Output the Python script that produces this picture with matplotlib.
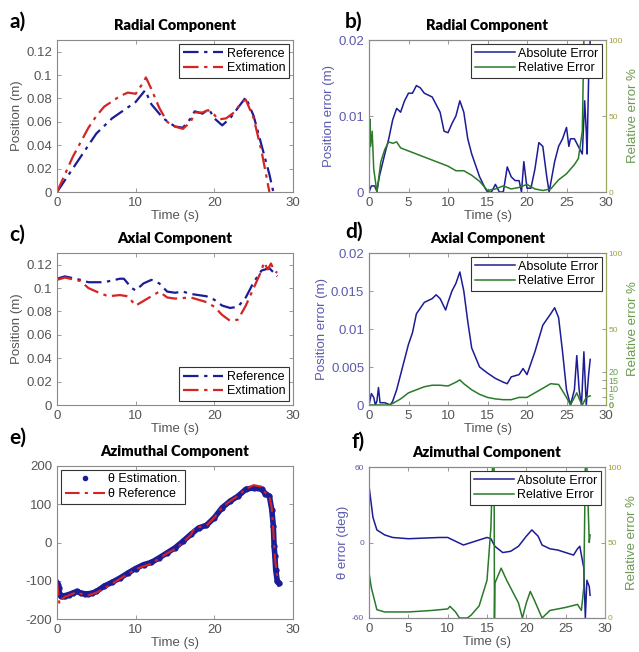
import numpy as np
import matplotlib
matplotlib.use("Agg")
import matplotlib.pyplot as plt
from matplotlib.ticker import FuncFormatter
from matplotlib.lines import Line2D

plt.rcParams['font.family'] = ['Liberation Sans', 'DejaVu Sans']

# ---- a) radial component
t_rad_ref = [0, 2, 5, 7, 10, 11.2, 12, 13.5, 15, 16, 17, 17.5, 18.5, 19.3, 20, 21, 22, 23, 24, 25, 26, 27, 27.5, 27.8]
rad_ref = [0, 0.02, 0.05, 0.063, 0.077, 0.087, 0.075, 0.063, 0.056, 0.055, 0.063, 0.069, 0.067, 0.071, 0.063,
           0.057, 0.063, 0.072, 0.081, 0.065, 0.04, 0.015, 0.0, 0.003]
t_rad_est = [0, 2, 4, 5, 6, 8, 9, 10, 11, 11.3, 12, 13, 14, 15, 16, 17, 17.5, 18.5, 19.2, 20, 20.5, 21.5, 22.5,
             23.5, 24, 25, 26, 27]
rad_est = [0, 0.03, 0.055, 0.065, 0.073, 0.082, 0.085, 0.084, 0.094, 0.098, 0.088, 0.072, 0.060, 0.056, 0.054,
           0.060, 0.068, 0.068, 0.070, 0.066, 0.062, 0.063, 0.068, 0.077, 0.079, 0.063, 0.035, 0.0]

# ---- c) axial component
t_ax_ref = [0, 1, 3, 4, 6, 8, 8.5, 9.5, 10, 11, 12, 13, 14, 15, 16, 17, 19, 20, 21, 22, 23, 24, 25, 26, 27, 28]
ax_ref = [0.108, 0.110, 0.107, 0.105, 0.105, 0.108, 0.108, 0.100, 0.098, 0.104, 0.107, 0.104, 0.097, 0.096,
          0.097, 0.095, 0.093, 0.090, 0.085, 0.083, 0.084, 0.092, 0.105, 0.115, 0.117, 0.110]
t_ax_est = [0, 1, 3, 4, 5, 6.5, 8, 9, 10, 11, 12, 13, 14, 15, 17, 19, 20, 21, 22, 23, 24, 25, 26, 26.3, 26.8,
            27.2, 27.6, 28]
ax_est = [0.107, 0.109, 0.106, 0.100, 0.097, 0.093, 0.094, 0.093, 0.085, 0.089, 0.093, 0.097, 0.092, 0.091,
          0.092, 0.088, 0.084, 0.077, 0.072, 0.073, 0.085, 0.100, 0.115, 0.122, 0.116, 0.121, 0.115, 0.113]

# ---- e) azimuthal component (deg)
t_az_est = [0, 0.1, 0.2, 0.3, 0.5, 0.8, 1, 1.5, 2, 2.5, 3, 3.5, 4, 4.5, 5, 6, 7, 8, 9, 10, 11, 12, 13, 14, 15,
            16, 17, 18, 19, 20, 21, 22, 23, 24, 25, 26, 26.5, 27, 27.3, 27.5, 27.6, 27.7, 27.8, 28, 28.2]
az_est = [-106, -110, -119, -132, -141, -140, -139, -136, -132, -128, -132, -134, -134, -132, -128, -114, -104,
          -93, -80, -68, -58, -52, -40, -27, -14, 3, 21, 38, 45, 65, 91, 108, 121, 139, 143, 139, 128, 121, 86,
          43, -10, -36, -71, -101, -107]
t_az_ref = [0, 0.3, 0.6, 1, 2, 2.5, 3, 4, 5, 6, 8, 10, 11, 12, 14, 15, 16, 17, 17.5, 18, 19, 20, 21, 22, 23, 24,
            25, 26, 26.5, 27, 27.3, 27.5, 27.7, 28]
az_ref = [-100, -160, -148, -142, -134, -130, -134, -138, -131, -120, -95, -70, -62, -55, -28, -17, 0, 20, 38,
          40, 44, 65, 92, 108, 122, 140, 150, 146, 130, 120, 90, 30, -40, -90]

# ---- b) radial errors
t_b_abs = [0, 0.3, 0.7, 1, 1.3, 2, 2.5, 3, 3.5, 4, 4.5, 5, 5.5, 6, 6.5, 7, 8, 8.5, 9, 9.5, 10, 10.5, 11, 11.5,
           12, 12.5, 13, 14, 14.7, 15, 15.5, 16, 16.5, 17, 17.5, 18, 18.5, 19, 19.3, 19.6, 20, 20.5, 21, 21.5,
           22, 22.5, 22.8, 23.5, 24, 24.5, 25, 25.3, 25.5, 26, 26.5, 27, 27.3, 27.5, 27.6, 27.8, 28]
b_abs = [0, 0.0008, 0.0008, 0.0001, 0.002, 0.005, 0.007, 0.0095, 0.011, 0.0105, 0.012, 0.013, 0.013, 0.014,
         0.0137, 0.013, 0.0125, 0.0115, 0.0105, 0.008, 0.0078, 0.009, 0.010, 0.012, 0.0105, 0.007, 0.005, 0.002,
         0.0005, 0.0, 0.0, 0.001, 0.0, 0.0, 0.0033, 0.002, 0.0015, 0.0015, 0.0, 0.004, 0.0005, 0.0005, 0.003,
         0.0065, 0.006, 0.002, 0.0, 0.004, 0.006, 0.007, 0.0085, 0.006, 0.007, 0.007, 0.006, 0.005, 0.012, 0.008,
         0.005, 0.015, 0.02]
t_b_rel = [0, 0.1, 0.2, 0.4, 0.6, 1, 1.5, 2, 2.5, 3, 3.5, 4, 5, 6, 7, 8, 9, 10, 11, 12, 13, 14, 15, 16, 17, 18,
           19, 20, 21, 22, 23, 24, 25, 26, 26.5, 27, 27.2]
b_rel = [0, 48, 30, 40, 15, 0, 20, 28, 33, 32, 33, 29, 27, 25, 23, 21, 19, 17, 14, 14, 11, 7, 1, 2, 4, 2, 3, 5,
         2, 1, 2, 8, 12, 18, 22, 40, 100]

# ---- d) axial errors
t_d_abs = [0, 0.3, 0.6, 0.8, 1, 1.2, 1.4, 2, 2.7, 3, 3.5, 4, 4.5, 5, 5.5, 6, 7, 8, 8.5, 9, 9.7, 10, 10.5, 11,
           11.5, 12, 12.5, 13, 14, 15, 16, 17, 17.5, 18, 19, 19.5, 20, 21, 22, 23, 23.5, 24, 24.5, 25, 25.5, 26,
           26.3, 26.6, 26.9, 27.2, 27.5, 27.8, 28]
d_abs = [0, 0.0015, 0.001, 0.0, 0.0005, 0.0023, 0.0003, 0.0003, 0.0, 0.0005, 0.002, 0.004, 0.006, 0.008,
         0.0095, 0.012, 0.0135, 0.014, 0.0145, 0.014, 0.0125, 0.0135, 0.015, 0.016, 0.0175, 0.015, 0.011, 0.0075,
         0.005, 0.0042, 0.0035, 0.003, 0.0028, 0.0037, 0.004, 0.0048, 0.004, 0.007, 0.0105, 0.012, 0.0128,
         0.0115, 0.007, 0.002, 0.0, 0.002, 0.0065, 0.002, 0.0, 0.007, 0.0, 0.004, 0.006]
t_d_rel = [0, 2.5, 3, 4, 5, 6, 7, 8, 9, 10, 11, 11.5, 12, 13, 14, 15, 16, 17, 18, 19, 20, 21, 22, 23, 24, 25,
           25.5, 26, 26.3, 26.7, 27, 27.5, 28]
d_rel = [0, 0, 1, 4, 8, 10, 12, 13, 13, 12.5, 15, 16.5, 14, 10, 7, 5, 4, 3.5, 3.5, 5, 5, 8, 11, 14, 13.5, 5, 0,
         5, 8, 3, 0, 5, 6]

# ---- f) azimuthal errors
t_f_abs = [0, 0.2, 0.5, 1, 2, 3, 5, 7, 9, 10, 11, 12, 13, 14, 15, 15.5, 16, 17, 18, 19, 20, 20.7, 21.5, 22, 23,
           24, 25, 26, 26.5, 26.8, 27, 27.3, 27.5, 27.7, 28, 28.1]
f_abs = [45, 35, 20, 10, 6, 4, 3, 3.5, 4, 4, 1, -2, 0, 2, 4, 3, -3, -8, -7, -3, 5, 10, 5, -2, -5, -6, -8, -10,
         -5, -3, -10, -20, -60, -30, -35, -42]
t_f_rel = [0, 0.3, 1, 2, 5, 8, 10, 10.3, 11, 11.5, 12.5, 13, 14, 15, 15.5, 15.7, 15.9, 15.95, 16, 16.8, 17.5,
           18, 19, 19.5, 20, 20.5, 21, 22, 23, 25, 26.5, 27, 27.3, 27.5, 27.7, 28, 28.1]
f_rel = [30, 20, 5.5, 4, 4, 5, 6, 7.7, 4, 0, 0, 2, 8, 25, 60, 100, 100, 0, 23, 33, 25, 20, 10, 0, 10, 17.6, 12,
         0, 5, 7, 9, 5, 20, 100, 100, 50, 55]

BLUE = '#1c1c96'
RED = '#d42424'
GREEN = '#2a7a2a'
AX_BLUE = '#5a5aae'
AX_GREEN = '#6a9a50'
OLIVE = '#a0a040'
GRAY = '#555555'
DASHDOT = (0, (7, 2.5, 1.5, 2.5))

W, H = 639, 652
fig = plt.figure(figsize=(W / 100, H / 100), dpi=100)


def rect(x0, x1, y0, y1):
    return [x0 / W, 1 - y1 / H, (x1 - x0) / W, (y1 - y0) / H]


def gfmt(v, pos):
    return '%g' % v


def style_axes(ax, tick_color=GRAY):
    for s in ax.spines.values():
        s.set_color('#8a8a8a')
        s.set_linewidth(0.8)
    ax.tick_params(direction='in', length=3, width=0.6, top=True, right=True,
                   labelsize=9.5, colors='#8a8a8a', labelcolor=tick_color)
    ax.xaxis.set_major_formatter(FuncFormatter(gfmt))
    ax.yaxis.set_major_formatter(FuncFormatter(gfmt))


def titles(ax, letter, title, lx, ly, ty):
    ax.set_title(title, fontsize=10.5, fontweight='heavy', family=['Lato', 'DejaVu Sans'], pad=ty)
    fig.text(lx / W, 1 - ly / H, letter, fontsize=15, fontweight='bold', family=['Lato', 'DejaVu Sans'],
             va='center', ha='left')


def leg(ax, handles, labels, loc):
    lg = ax.legend(handles, labels, loc=loc, fontsize=9, fancybox=False, framealpha=1,
                   edgecolor='#333333', handlelength=3.2, borderpad=0.3, labelspacing=0.2,
                   handletextpad=0.3, borderaxespad=0.3)
    lg.get_frame().set_linewidth(0.8)
    return lg


# ---- left column
def position_panel(r, t_ref, y_ref, t_est, y_est, letter, title, lx, ly, loc):
    ax = fig.add_axes(r)
    h1, = ax.plot(t_ref, y_ref, color=BLUE, lw=1.6, ls=DASHDOT)
    h2, = ax.plot(t_est, y_est, color=RED, lw=1.6, ls=DASHDOT)
    ax.set_xlim(0, 30)
    ax.set_ylim(0, 0.13)
    ax.set_xticks([0, 10, 20, 30])
    ax.set_yticks(np.arange(0, 0.121, 0.02))
    style_axes(ax)
    ax.set_xlabel('Time (s)', fontsize=9.5, color=GRAY, labelpad=1)
    ax.set_ylabel('Position (m)', fontsize=9.5, color=GRAY, labelpad=2)
    leg(ax, [h1, h2], ['Reference', 'Extimation'], loc)
    titles(ax, letter, title, lx, ly, 7)
    return ax


position_panel(rect(57, 293, 40, 192), t_rad_ref, rad_ref, t_rad_est, rad_est, 'a)', 'Radial Component',
               9, 22, 'upper right')
position_panel(rect(57, 293, 253, 405), t_ax_ref, ax_ref, t_ax_est, ax_est, 'c)', 'Axial Component',
               9, 235, 'lower right')

ax = fig.add_axes(rect(57, 293, 466, 619))
ax.plot(t_az_est, az_est, color=BLUE, lw=4, marker='.', ms=7)
ax.plot(t_az_ref, az_ref, color=RED, lw=1.5, ls=DASHDOT)
ax.set_xlim(0, 30)
ax.set_ylim(-200, 200)
ax.set_xticks([0, 10, 20, 30])
ax.set_yticks([-200, -100, 0, 100, 200])
style_axes(ax)
ax.set_xlabel('Time (s)', fontsize=9.5, color=GRAY, labelpad=1)
leg(ax, [Line2D([], [], color=BLUE, ls='none', marker='.', ms=6),
         Line2D([], [], color=RED, lw=1.5, ls=DASHDOT)],
    ['θ Estimation.', 'θ Reference'], 'upper left')
titles(ax, 'e)', 'Azimuthal Component', 9, 438, 7)


# ---- right column
def error_panel(r, t_abs, y_abs, t_rel, y_rel, ylim, yticks, ylabel, letter, title, lx, ly, small=False):
    ax = fig.add_axes(r)
    h1, = ax.plot(t_abs, y_abs, color=BLUE, lw=1.1)
    ax.set_xlim(0, 30)
    ax.set_ylim(*ylim)
    ax.set_xticks(np.arange(0, 31, 5))
    ax.set_yticks(yticks)
    style_axes(ax, tick_color=AX_BLUE)
    ax.tick_params(right=False)
    if small:
        ax.tick_params(axis='y', labelsize=6)
    ax.tick_params(axis='x', labelcolor=GRAY)
    ax.set_xlabel('Time (s)', fontsize=9.5, color=GRAY, labelpad=1)
    ax.set_ylabel(ylabel, fontsize=9.5, color=AX_BLUE, labelpad=2)
    ax2 = ax.twinx()
    h2, = ax2.plot(t_rel, y_rel, color=GREEN, lw=1.1)
    ax2.set_ylim(0, 100)
    ax2.set_yticks([0, 50, 100])
    ax2.tick_params(direction='in', length=3, width=0.6, labelsize=6, colors='#8a8a8a', labelcolor=OLIVE, pad=2)
    ax2.yaxis.set_major_formatter(FuncFormatter(gfmt))
    for s in ax2.spines.values():
        s.set_color('#8a8a8a')
        s.set_linewidth(0.8)
    ax2.spines['right'].set_color('#9aaa60')
    ax.spines['left'].set_color('#7a7ab8')
    ax2.set_ylabel('Relative error %', fontsize=9.5, color=AX_GREEN, labelpad=3)
    leg(ax2, [h1, h2], ['Absolute Error', 'Relative Error'], 'upper right')
    titles(ax, letter, title, lx, ly, 7)
    return ax, ax2


error_panel(rect(369, 606, 40, 192), t_b_abs, b_abs, t_b_rel, b_rel, (0, 0.02), [0, 0.01, 0.02],
            'Position error (m)', 'b)', 'Radial Component', 345, 22)
ax_d, ax_d2 = error_panel(rect(369, 606, 253, 405), t_d_abs, d_abs, t_d_rel, d_rel, (0, 0.02),
                          [0, 0.005, 0.01, 0.015, 0.02], 'Position error (m)', 'd)', 'Axial Component', 345, 232)
# second right-hand scale overlapping at the bottom of panel d
ax_d3 = ax_d.twinx()
ax_d3.set_ylim(0, 92)
ax_d3.set_yticks([0, 5, 10, 15, 20])
ax_d3.tick_params(direction='in', length=3, width=0.6, labelsize=6.5, colors='#8a8a8a', labelcolor=AX_GREEN, pad=2)
for s in ax_d3.spines.values():
    s.set_visible(False)
error_panel(rect(369, 605, 467, 618), t_f_abs, f_abs, t_f_rel, f_rel, (-60, 60), [-60, 0, 60],
            'θ error (deg)', 'f)', 'Azimuthal Component', 352, 442, small=True)

fig.savefig('out.png', dpi=100)
